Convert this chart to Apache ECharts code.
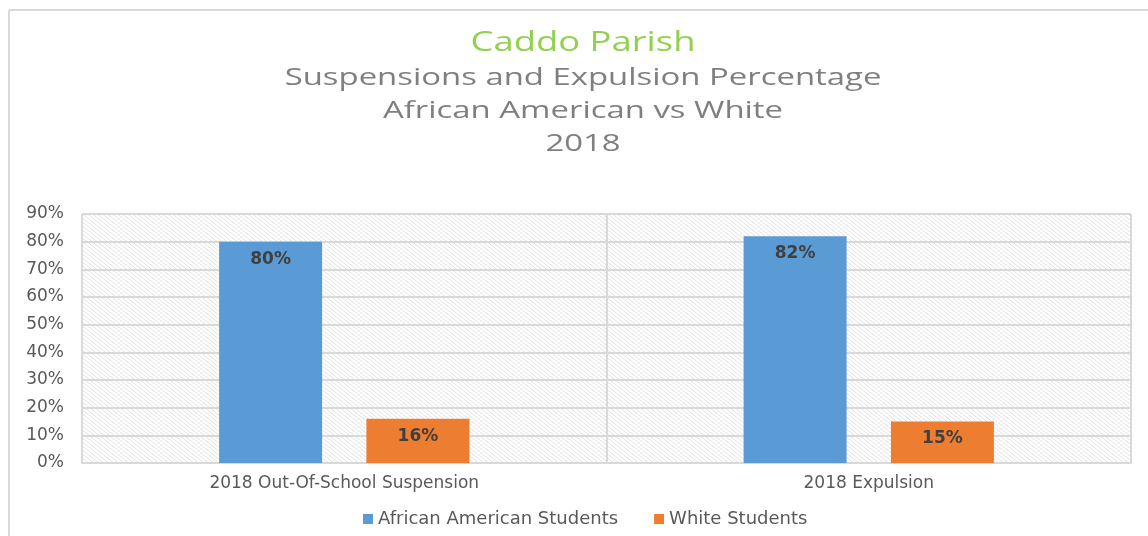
<!DOCTYPE html>
<html>
<head>
<meta charset="utf-8">
<script src="https://cdn.jsdelivr.net/npm/echarts@6/dist/echarts.min.js"></script>
<style>
  html, body { margin: 0; padding: 0; background: #ffffff; }
  #chart { width: 1148px; height: 536px; }
</style>
</head>
<body>
<div id="chart"></div>
<script>
// Categories, series and axis ticks
const categories = ['2018 Out-Of-School Suspension', '2018 Expulsion'];
const africanAmerican = [80, 82];
const white = [16, 15];
const seriesNames = ['African American Students', 'White Students'];
const yTicks = [0, 10, 20, 30, 40, 50, 60, 70, 80, 90];
const titleText = 'Caddo Parish';
const subtitleText = 'Suspensions and Expulsion Percentage\nAfrican American vs White\n2018';

// Light diagonal hatching for the plot background
function makeHatch() {
  const c = document.createElement('canvas');
  const w = 5, h = 4;
  c.width = w; c.height = h;
  const ctx = c.getContext('2d');
  ctx.fillStyle = '#ffffff';
  ctx.fillRect(0, 0, w, h);
  ctx.strokeStyle = '#e2e2e2';
  ctx.lineWidth = 1;
  ctx.beginPath();
  ctx.moveTo(-w, -h); ctx.lineTo(2 * w, 2 * h);
  ctx.moveTo(-w, 0); ctx.lineTo(w, 2 * h);
  ctx.moveTo(0, -h); ctx.lineTo(2 * w, h);
  ctx.stroke();
  return c;
}

const chart = echarts.init(document.getElementById('chart'), null, { renderer: 'canvas' });
const labelFont = 'DejaVu Sans';
const titleCenterX = 583;

chart.setOption({
  backgroundColor: '#ffffff',
  animation: false,
  graphic: [
    // chart frame
    { type: 'line', shape: { x1: 9, y1: 10, x2: 1148, y2: 10 }, style: { stroke: '#d9d9d9', lineWidth: 2 } },
    { type: 'line', shape: { x1: 9, y1: 10, x2: 9, y2: 536 }, style: { stroke: '#d9d9d9', lineWidth: 2 } },
    // wide-set title lines
    {
      type: 'text', x: titleCenterX, y: 29, scaleX: 1.3,
      style: {
        text: titleText, align: 'center', verticalAlign: 'top',
        font: '28px "Open Sans"', fill: '#92d050'
      }
    },
    {
      type: 'text', x: titleCenterX, y: 62, scaleX: 1.37,
      style: {
        text: subtitleText, align: 'center', verticalAlign: 'top',
        font: '24px "Open Sans"', lineHeight: 33, fill: '#7f7f7f'
      }
    }
  ],
  legend: {
    data: seriesNames,
    top: 505,
    left: 358,
    itemWidth: 10, itemHeight: 10, itemGap: 36,
    icon: 'rect',
    textStyle: { color: '#595959', fontFamily: labelFont, fontSize: 18 }
  },
  grid: {
    left: 82, right: 17, top: 214, bottom: 73,
    show: true,
    borderColor: '#d9d9d9', borderWidth: 1,
    backgroundColor: { image: makeHatch(), repeat: 'repeat' }
  },
  xAxis: {
    type: 'category',
    data: categories,
    axisLine: { lineStyle: { color: '#d9d9d9', width: 2 } },
    axisTick: { show: false },
    splitLine: { show: true, lineStyle: { color: '#d9d9d9', width: 2 } },
    axisLabel: { color: '#595959', fontFamily: labelFont, fontSize: 17, margin: 12 }
  },
  yAxis: {
    type: 'value',
    min: yTicks[0], max: yTicks[yTicks.length - 1], interval: 10,
    axisLine: { show: false },
    axisTick: { show: false },
    splitLine: { lineStyle: { color: '#d9d9d9', width: 2 } },
    axisLabel: { color: '#595959', fontFamily: labelFont, fontSize: 17, margin: 18, formatter: '{value}%' }
  },
  series: [
    {
      name: seriesNames[0], type: 'bar', data: africanAmerican,
      barWidth: 103, barGap: '43%',
      itemStyle: { color: '#5b9bd5' },
      label: {
        show: true, position: 'insideTop', distance: 9,
        formatter: '{c}%', color: '#404040', fontFamily: labelFont, fontWeight: 'bold', fontSize: 17
      }
    },
    {
      name: seriesNames[1], type: 'bar', data: white,
      barWidth: 103,
      itemStyle: { color: '#ed7d31' },
      label: {
        show: true, position: 'insideTop', distance: 9,
        formatter: '{c}%', color: '#404040', fontFamily: labelFont, fontWeight: 'bold', fontSize: 17
      }
    }
  ]
});
</script>
</body>
</html>
